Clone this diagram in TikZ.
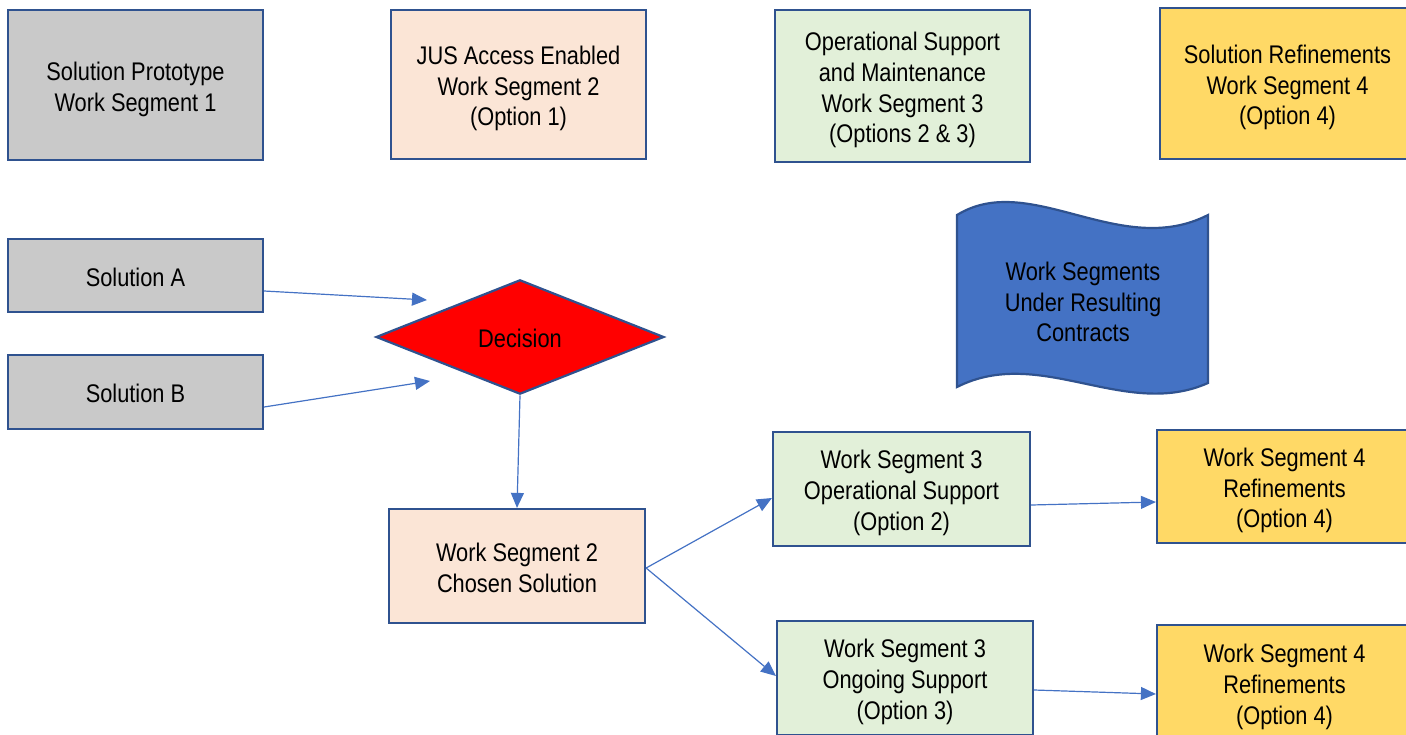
\documentclass[tikz,border=0pt]{standalone}
\usepackage{fontspec}
\setmainfont[FakeStretch=0.855]{Liberation Sans}
\usetikzlibrary{shapes.geometric,arrows.meta}
\definecolor{bord}{HTML}{2F528F}
\definecolor{arrblue}{HTML}{4472C4}
\definecolor{waveblue}{HTML}{4472C4}
\definecolor{grayfill}{HTML}{C9C9C9}
\definecolor{peach}{HTML}{FBE5D6}
\definecolor{lgreen}{HTML}{E2F0D9}
\definecolor{gold}{HTML}{FFD966}
\newcommand{\mylines}[2][-4.5pt]{\raisebox{#1}[\height][\depth]{\begin{tabular}{@{}c@{}}#2\end{tabular}}}
\begin{document}
\begin{tikzpicture}[x=1pt,y=-1pt,
  txt/.style={align=center, font=\fontsize{25.5}{30.8}\selectfont, text=black},
  box/.style={txt, draw=bord, line width=2.2pt, minimum width=255pt, inner sep=0pt},
  arr/.style={draw=arrblue, line width=1.2pt, -{Triangle[length=15pt,width=13pt]}}]
\useasboundingbox (0,0) rectangle (1406,734);
% top row
\node[box, fill=grayfill, minimum height=150pt] (sp1) at (135.5,85) {\mylines{Solution Prototype\\Work Segment 1}};
\node[box, fill=peach, minimum height=149pt] (jus) at (518.5,84.5) {\mylines{JUS Access Enabled\\Work Segment 2\\(Option 1)}};
\node[box, fill=lgreen, minimum height=152pt] (ops) at (902.5,86) {\mylines{Operational Support\\and Maintenance\\Work Segment 3\\(Options 2 \& 3)}};
\node[box, fill=gold, minimum height=151pt] (sr) at (1287.5,83.5) {\mylines{Solution Refinements\\Work Segment 4\\(Option 4)}};
% solutions
\node[box, fill=grayfill, minimum height=73pt] (solA) at (135.5,275.5) {\mylines{Solution A}};
\node[box, fill=grayfill, minimum height=74pt] (solB) at (135.5,392) {\mylines{Solution B}};
% decision
\node[txt, diamond, draw=bord, line width=2.2pt, fill=red, minimum width=288pt, minimum height=113pt, inner sep=0pt] (dec) at (520,337) {\mylines[-4pt]{Decision}};
% wave
\draw[draw=bord, line width=2.2pt, fill=waveblue] (957,215) .. controls (1030,170) and (1120,260) .. (1208,215) -- (1208,383) .. controls (1125,420) and (1040,345) .. (957,387) -- cycle;
\node[txt] (wsu) at (1083,302) {\mylines[-3pt]{Work Segments\\Under Resulting\\Contracts}};
% lower boxes
\node[box, fill=peach, minimum height=114pt, minimum width=256pt] (ws2) at (517,566) {\mylines{Work Segment 2\\Chosen Solution}};
\node[box, fill=lgreen, minimum height=114pt, minimum width=257pt] (ws3a) at (901.5,489) {\mylines{Work Segment 3\\Operational Support\\(Option 2)}};
\node[box, fill=lgreen, minimum height=114pt, minimum width=256pt] (ws3b) at (905,678) {\mylines{Work Segment 3\\Ongoing Support\\(Option 3)}};
\node[box, fill=gold, minimum height=113pt] (ws4a) at (1284.5,486.5) {\mylines{Work Segment 4\\Refinements\\(Option 4)}};
\node[box, fill=gold, minimum height=116pt] (ws4b) at (1284.5,683) {\mylines{Work Segment 4\\Refinements\\(Option 4)}};
% arrows
\coordinate (aEnd) at (427,300);
\coordinate (bEnd) at (430,381);
\draw[arr] ([yshift=-15.5pt]solA.east) -- (aEnd);
\draw[arr] ([yshift=-15pt]solB.east) -- (bEnd);
\draw[arr] (dec.south) -- (ws2.north);
\draw[arr] ([yshift=-2pt]ws2.east) -- ([yshift=-9pt]ws3a.west);
\draw[arr] ([yshift=-2pt]ws2.east) -- ([yshift=2pt]ws3b.west);
\draw[arr] ([yshift=-16pt]ws3a.east) -- ([yshift=-15.5pt]ws4a.west);
\draw[arr] ([yshift=-12pt]ws3b.east) -- ([yshift=-11pt]ws4b.west);
\end{tikzpicture}
\end{document}
